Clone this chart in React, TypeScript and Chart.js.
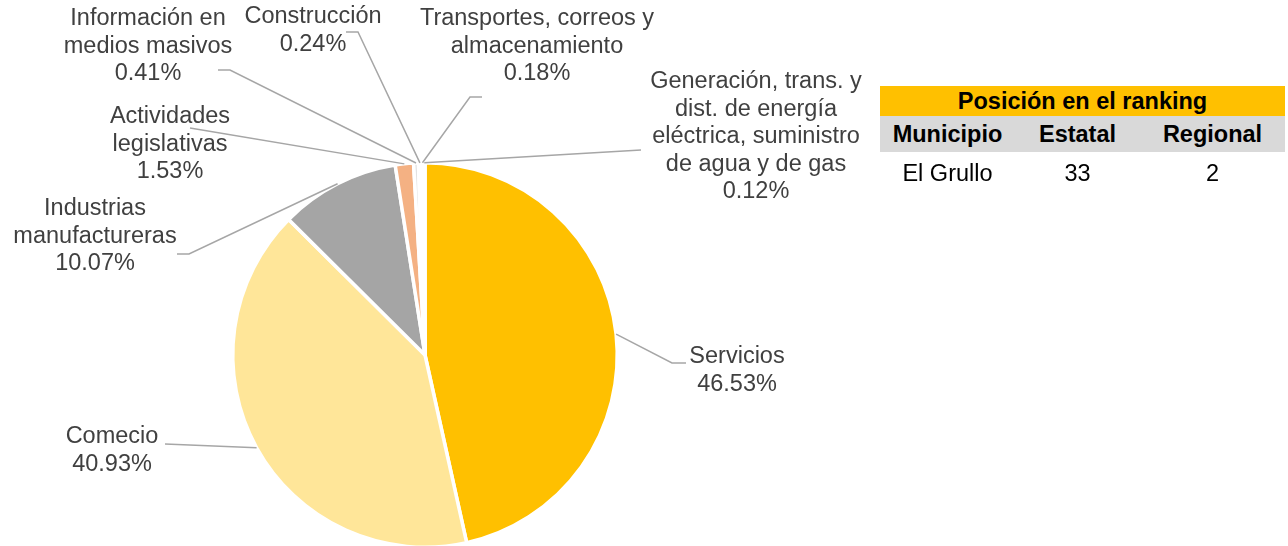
import React, { useEffect, useRef } from "react";
import { Chart, registerables } from "chart.js";

Chart.register(...registerables);

// ---- data ----
const categories: string[][] = [
  ["Servicios"],
  ["Comecio"],
  ["Industrias", "manufactureras"],
  ["Actividades", "legislativas"],
  ["Información en", "medios masivos"],
  ["Construcción"],
  ["Transportes, correos y", "almacenamiento"],
  ["Generación, trans. y", "dist. de energía", "eléctrica, suministro", "de agua y de gas"],
];
const shares: number[] = [46.53, 40.93, 10.07, 1.53, 0.41, 0.24, 0.18, 0.12];
const sliceColors: string[] = [
  "#FFC000",
  "#FFE699",
  "#A5A5A5",
  "#F4B183",
  "#E2E2E2",
  "#F2F2F2",
  "#EDEDED",
  "#F7F7F7",
];

const rankingTitle = "Posición en el ranking";
const rankingHeaders: string[] = ["Municipio", "Estatal", "Regional"];
const rankingRow: string[] = ["El Grullo", "33", "2"];

// ---- layout (label centers & leader-line start points) ----
const labelPos: [number, number][] = [
  [737, 357],
  [112, 437],
  [95, 209],
  [170, 117],
  [148, 19],
  [313, 17],
  [537, 19],
  [756, 82],
];
const leaderStart: [number, number][][] = [
  [[686, 363], [672, 363]],
  [[165, 444]],
  [[177, 254], [189, 254]],
  [[190, 128]],
  [[218, 70], [230, 70]],
  [[346, 32], [358, 32]],
  [[482, 97], [470, 97]],
  [[641, 150]],
];
const LINE_H = 27.5;
const FONT = "23.5px 'Liberation Sans', Arial, sans-serif";

const labelsPlugin = {
  id: "pieLabels",
  afterDraw(chart: any) {
    const ctx = chart.ctx as CanvasRenderingContext2D;
    const meta = chart.getDatasetMeta(0);
    ctx.save();
    ctx.strokeStyle = "#A6A6A6";
    ctx.lineWidth = 1.5;
    meta.data.forEach((arc: any, i: number) => {
      const p = arc.getProps(["x", "y", "startAngle", "endAngle", "outerRadius"], true);
      const mid = (p.startAngle + p.endAngle) / 2;
      const ex = p.x + Math.cos(mid) * p.outerRadius;
      const ey = p.y + Math.sin(mid) * p.outerRadius;
      const pts = leaderStart[i];
      ctx.beginPath();
      ctx.moveTo(pts[0][0], pts[0][1]);
      for (let k = 1; k < pts.length; k++) ctx.lineTo(pts[k][0], pts[k][1]);
      ctx.lineTo(ex, ey);
      ctx.stroke();
    });
    ctx.fillStyle = "#404040";
    ctx.font = FONT;
    ctx.textAlign = "center";
    ctx.textBaseline = "middle";
    categories.forEach((lines, i) => {
      const all = [...lines, shares[i].toFixed(2) + "%"];
      const [x, y] = labelPos[i];
      all.forEach((t, k) => ctx.fillText(t, x, y + k * LINE_H));
    });
    ctx.restore();
  },
};

export default function App() {
  const ref = useRef<HTMLCanvasElement | null>(null);
  useEffect(() => {
    document.body.style.margin = "0";
    const chart = new Chart(ref.current as HTMLCanvasElement, {
      type: "pie",
      data: {
        labels: categories,
        datasets: [
          {
            data: shares,
            backgroundColor: sliceColors,
            borderColor: "#FFFFFF",
            borderWidth: 3.5,
          },
        ],
      },
      options: {
        responsive: false,
        animation: false,
        layout: { padding: { left: 231, right: 669, top: 161, bottom: 11 } },
        plugins: { legend: { display: false }, tooltip: { enabled: false } },
      },
      plugins: [labelsPlugin],
    });
    return () => chart.destroy();
  }, []);

  const font = "'Liberation Sans', Arial, sans-serif";
  const cell = (t: string, x: number, w: number, bold: boolean) => (
    <div
      key={t + x}
      style={{
        position: "absolute",
        left: x,
        width: w,
        top: 0,
        height: "100%",
        display: "flex",
        alignItems: "center",
        justifyContent: "center",
        fontWeight: bold ? 700 : 400,
      }}
    >
      {t}
    </div>
  );
  const colX = [880, 1015, 1140];
  const colW = [135, 125, 145];

  return (
    <div style={{ position: "absolute", left: 0, top: 0, width: 1288, height: 546, overflow: "hidden", background: "#fff" }}>
      <canvas ref={ref} width={1288} height={560} style={{ position: "absolute", left: 0, top: 0 }} />
      <div style={{ position: "absolute", left: 0, top: 0, width: 1288, height: 546, fontFamily: font, fontSize: 23.5, color: "#000" }}>
        <div
          style={{
            position: "absolute",
            left: 880,
            top: 86,
            width: 405,
            height: 30,
            background: "#FFC000",
            display: "flex",
            alignItems: "center",
            justifyContent: "center",
            fontWeight: 700,
          }}
        >
          {rankingTitle}
        </div>
        <div style={{ position: "absolute", left: 0, top: 116, width: 1288, height: 36 }}>
          <div style={{ position: "absolute", left: 880, top: 0, width: 405, height: 36, background: "#D9D9D9" }} />
          {rankingHeaders.map((h, i) => cell(h, colX[i], colW[i], true))}
        </div>
        <div style={{ position: "absolute", left: 0, top: 155, width: 1288, height: 36 }}>
          {rankingRow.map((h, i) => cell(h, colX[i], colW[i], false))}
        </div>
      </div>
    </div>
  );
}
